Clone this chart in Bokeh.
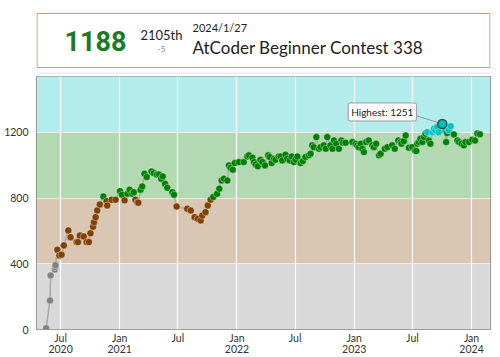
from datetime import timedelta
import pandas as pd
from bokeh.plotting import figure
from bokeh.layouts import column
from bokeh.models import Range1d, BoxAnnotation, FixedTicker, Label, ColumnDataSource
from bokeh.core.properties import value
from bokeh.embed import file_html
from bokeh.resources import INLINE

# ---------------- data ----------------
contest_dates = [
    "2020-05-17", "2020-05-29", "2020-05-31", "2020-06-13", "2020-06-14", "2020-06-15",
    "2020-06-21", "2020-06-27", "2020-07-04", "2020-07-11", "2020-07-25", "2020-08-01",
    "2020-08-20", "2020-08-24", "2020-08-30", "2020-09-11", "2020-09-20", "2020-09-27",
    "2020-10-02", "2020-10-10", "2020-10-13", "2020-10-18", "2020-10-23", "2020-10-31",
    "2020-11-11", "2020-11-21", "2020-11-23", "2020-12-07", "2020-12-19", "2021-01-02",
    "2021-01-08", "2021-01-16", "2021-01-25", "2021-02-01", "2021-02-09", "2021-02-14",
    "2021-02-19", "2021-02-25", "2021-02-28", "2021-03-07", "2021-03-12", "2021-03-19",
    "2021-03-26", "2021-04-10", "2021-04-17", "2021-04-26", "2021-05-03", "2021-05-10",
    "2021-05-15", "2021-05-22", "2021-05-29", "2021-06-14", "2021-06-19", "2021-06-27",
    "2021-07-30", "2021-08-10", "2021-08-22", "2021-09-01", "2021-09-10", "2021-09-15",
    "2021-09-25", "2021-10-02", "2021-10-11", "2021-10-19", "2021-10-31", "2021-11-07",
    "2021-11-14", "2021-11-21", "2021-12-02", "2021-12-07", "2021-12-12", "2021-12-19",
    "2021-12-25", "2022-01-07", "2022-01-22", "2022-02-02", "2022-02-07", "2022-02-18",
    "2022-02-23", "2022-02-28", "2022-03-07", "2022-03-15", "2022-03-21", "2022-03-29",
    "2022-04-08", "2022-04-13", "2022-04-19", "2022-04-26", "2022-05-01", "2022-05-11",
    "2022-05-17", "2022-05-22", "2022-06-01", "2022-06-06", "2022-06-14", "2022-06-20",
    "2022-06-27", "2022-07-02", "2022-07-08", "2022-07-18", "2022-07-25", "2022-08-02",
    "2022-08-13", "2022-08-18", "2022-08-23", "2022-08-28", "2022-09-05", "2022-09-13",
    "2022-09-18", "2022-09-28", "2022-10-04", "2022-10-09", "2022-10-19", "2022-10-25",
    "2022-10-30", "2022-11-06", "2022-11-14", "2022-11-22", "2022-11-27", "2022-12-05",
    "2022-12-26", "2023-01-05", "2023-01-10", "2023-01-15", "2023-01-21", "2023-01-26",
    "2023-01-31", "2023-02-07", "2023-02-15", "2023-02-26", "2023-03-03", "2023-03-10",
    "2023-03-19", "2023-03-24", "2023-04-06", "2023-04-14", "2023-04-29", "2023-05-07",
    "2023-05-18", "2023-05-25", "2023-05-28", "2023-06-04", "2023-06-10", "2023-06-20",
    "2023-06-30", "2023-07-09", "2023-07-13", "2023-07-16", "2023-07-21", "2023-07-26",
    "2023-08-01", "2023-08-06", "2023-08-11", "2023-08-16", "2023-08-21", "2023-08-26",
    "2023-09-01", "2023-09-06", "2023-09-11", "2023-09-16", "2023-09-21", "2023-10-02",
    "2023-10-10", "2023-10-14", "2023-10-17", "2023-10-22", "2023-10-28", "2023-11-07",
    "2023-11-18", "2023-11-23", "2023-12-01", "2023-12-08", "2023-12-13", "2023-12-24",
    "2024-01-03", "2024-01-12", "2024-01-19", "2024-01-27",
]
ratings = [
    8, 177, 329, 365, 380, 392,
    485, 451, 455, 512, 603, 562,
    532, 532, 572, 566, 532, 532,
    586, 625, 653, 684, 725, 761,
    810, 781, 755, 790, 790, 842,
    820, 786, 826, 851, 826, 836,
    790, 775, 772, 851, 871, 948,
    928, 962, 952, 944, 944, 918,
    932, 887, 863, 836, 820, 749,
    735, 725, 684, 674, 664, 694,
    714, 755, 790, 806, 826, 857,
    907, 918, 907, 999, 985, 973,
    1013, 1019, 1019, 1053, 1060, 1046,
    1019, 1005, 993, 1033, 1019, 999,
    1060, 1050, 1013, 1040, 1033, 1053,
    1053, 1029, 1064, 1040, 1029, 1053,
    1019, 1035, 1053, 1013, 1025, 1050,
    1060, 1070, 1121, 1110, 1171, 1100,
    1110, 1121, 1100, 1171, 1121, 1100,
    1151, 1131, 1100, 1151, 1137, 1137,
    1141, 1131, 1121, 1110, 1131, 1100,
    1080, 1141, 1151, 1121, 1110, 1131,
    1060, 1070, 1100, 1110, 1121, 1100,
    1151, 1141, 1131, 1146, 1181, 1107,
    1110, 1090, 1086, 1131, 1141, 1161,
    1141, 1171, 1191, 1201, 1151, 1131,
    1201, 1222, 1212, 1232, 1201, 1251,
    1212, 1141, 1196, 1212, 1237, 1187,
    1151, 1141, 1131, 1121, 1141, 1141,
    1155, 1151, 1193, 1188,
]

x_tick_dates = ["2020-07-01", "2021-01-01", "2021-07-01", "2022-01-01",
                "2022-07-01", "2023-01-01", "2023-07-01", "2024-01-01"]
x_tick_labels = ["Jul\n2020", "Jan\n2021", "Jul", "Jan\n2022",
                 "Jul", "Jan\n2023", "Jul", "Jan\n2024"]
y_ticks = [0, 400, 800, 1200]
x_start, x_end = "2020-04-17", "2024-02-29"
y_start, y_end = 0, 1540

rank_bounds = [0, 400, 800, 1200, 1600]
rank_colors = ["#808080", "#804000", "#008000", "#00C0C0"]
band_colors = ["#D9D9D9", "#D9C6B3", "#B3D9B3", "#B3ECEC"]

latest_rating = 1188
latest_rank = "2105th"
latest_change = "-5"
latest_date = "2024/1/27"
latest_contest = "AtCoder Beginner Contest 338"

FONT = value("Lato")

# ---------------- header ----------------
# the column aligns this figure's frame with the chart frame (x 36..490),
# so the range is chosen to make units equal to page pixels
hdr = figure(width=500, height=74, x_range=Range1d(36, 490), y_range=Range1d(74, 0),
             output_backend="svg", toolbar_location=None, min_border=0,
             min_border_left=36, min_border_right=10,
             x_axis_location=None, y_axis_location=None)
hdr.grid.visible = False
hdr.outline_line_color = None
hdr.background_fill_color = "white"
hdr.border_fill_color = "white"
hdr.line(x=[38, 490], y=[73, 73], line_color="#ececec", line_width=2)
hdr.quad(left=[36.5], right=[489.5], top=[13], bottom=[67], fill_color="white",
         line_color="#86bf86", line_width=1.2)
hdr.text(x=[95], y=[40], text=[str(latest_rating)], text_font=value("Roboto"),
         text_font_style="bold", text_font_size="27px", text_color="#1b7a25",
         text_align="center", text_baseline="middle")
hdr.text(x=[161], y=[34], text=[latest_rank], text_font=FONT, text_font_size="13px",
         text_color="#222222", text_align="center", text_baseline="middle")
hdr.text(x=[161], y=[48], text=[latest_change], text_font=FONT, text_font_size="8px",
         text_color="#888888", text_align="center", text_baseline="middle")
hdr.text(x=[192], y=[27], text=[latest_date], text_font=FONT, text_font_size="11px",
         text_color="#222222", text_align="left", text_baseline="middle")
hdr.text(x=[192], y=[47], text=[latest_contest], text_font=FONT, text_font_size="17px",
         text_color="#222222", text_align="left", text_baseline="middle")

# ---------------- chart ----------------
dates = pd.to_datetime(contest_dates)

def rank_color(r):
    for lo, hi, c in zip(rank_bounds[:-1], rank_bounds[1:], rank_colors):
        if lo <= r < hi:
            return c
    return rank_colors[-1]

src = ColumnDataSource(dict(x=dates, y=ratings, c=[rank_color(r) for r in ratings]))

p = figure(frame_width=454, frame_height=253, x_axis_type="datetime",
           x_range=Range1d(pd.Timestamp(x_start), pd.Timestamp(x_end)),
           y_range=Range1d(y_start, y_end),
           output_backend="svg", toolbar_location=None,
           min_border_left=36, min_border_right=10, min_border_top=2, min_border_bottom=26)
p.background_fill_color = "white"
p.border_fill_color = "white"
p.outline_line_color = "#888888"
p.outline_line_width = 1.2

for lo, hi, bc in zip(rank_bounds[:-1], rank_bounds[1:], band_colors):
    p.add_layout(BoxAnnotation(bottom=lo, top=hi, fill_color=bc, fill_alpha=1,
                               line_color=None, level="image"))

tick_ms = [pd.Timestamp(d).value // 10**6 for d in x_tick_dates]
p.xaxis.ticker = FixedTicker(ticks=tick_ms)
p.xaxis.major_label_overrides = {t: lab for t, lab in zip(tick_ms, x_tick_labels)}
p.yaxis.ticker = FixedTicker(ticks=y_ticks)
for ax in (p.xaxis, p.yaxis):
    ax.axis_line_color = None
    ax.major_tick_line_color = None
    ax.minor_tick_line_color = None
    ax.major_tick_out = 0
    ax.major_tick_in = 0
    ax.major_label_text_font = "Lato"
    ax.major_label_text_font_size = "10.5px"
    ax.major_label_text_color = "#333333"
p.xaxis.major_label_text_line_height = 0.95
p.xaxis.major_label_standoff = 2
p.yaxis.major_label_standoff = 8
p.xgrid.grid_line_color = "white"
p.xgrid.grid_line_width = 1.2
p.ygrid.grid_line_color = "white"
p.ygrid.grid_line_alpha = 0.6

p.line("x", "y", source=src, line_color="#aaaaaa", line_width=1.6)
p.scatter("x", "y", source=src, size=7, fill_color="c", line_color="white",
          line_alpha=0.35, line_width=1)

hi_idx = max(range(len(ratings)), key=lambda i: ratings[i])
hi_date, hi_val = dates[hi_idx], ratings[hi_idx]
p.segment(x0=[hi_date], y0=[hi_val], x1=[hi_date - timedelta(days=88)], y1=[hi_val + 55],
          line_color="#999999", line_width=1)
p.scatter(x=[hi_date], y=[hi_val], size=9, fill_color=rank_color(hi_val),
          line_color="#205050", line_width=1.5)
p.add_layout(Label(x=hi_date, y=hi_val, x_offset=-60, y_offset=12,
                   text=f"Highest: {hi_val}", text_font="Lato", text_font_size="10px",
                   text_color="#222222", text_align="center", text_baseline="middle",
                   background_fill_color="white", border_line_color="#999999",
                   padding=3, border_radius=2))

layout = column(hdr, p, spacing=0)
open("out.html", "w").write(file_html(layout, INLINE))
